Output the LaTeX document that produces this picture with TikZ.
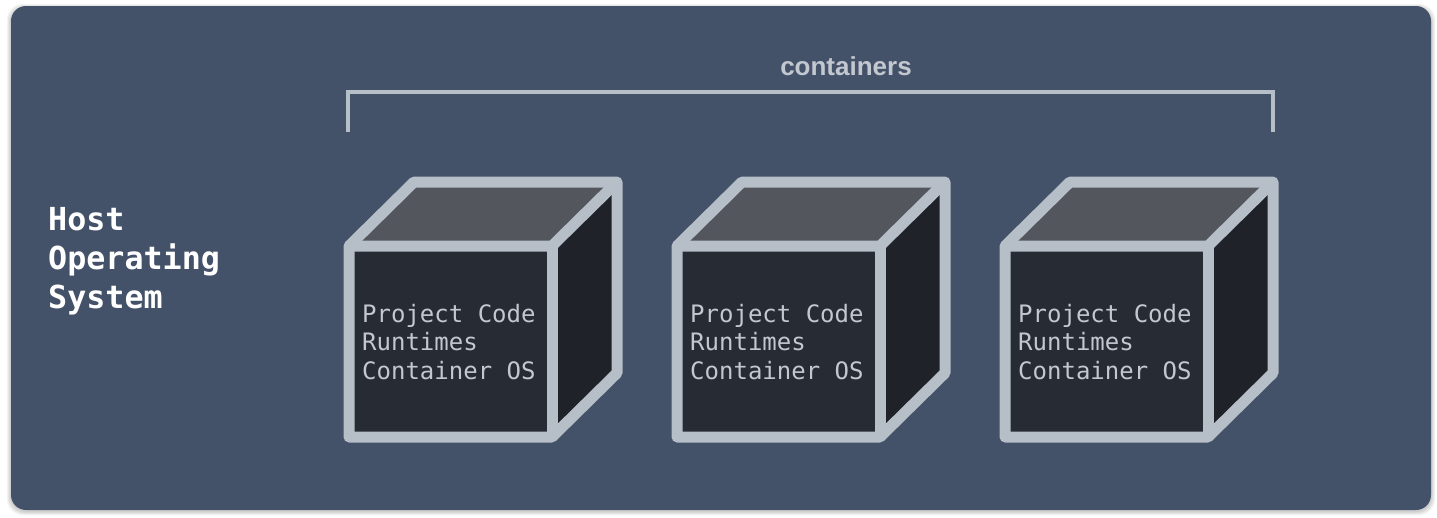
\documentclass[tikz,border=0pt]{standalone}
\usepackage{fontspec}
\setmainfont{Liberation Sans}
\setmonofont{DejaVu Sans Mono}
\usepackage{tikz}

\definecolor{panelblue}{HTML}{435169}
\definecolor{edgegrey}{HTML}{B6BEC8}
\definecolor{textgrey}{HTML}{C3C8D0}
\definecolor{topface}{HTML}{54565E}
\definecolor{sideface}{HTML}{1F2229}
\definecolor{frontface}{HTML}{272B33}

\tikzset{
    cubeedge/.style={draw=edgegrey, line width=11pt, line join=round},
    boxtext/.style={anchor=west, align=left, inner sep=0pt, text=textgrey,
        font=\ttfamily\fontsize{24}{28.5}\selectfont},
    hosttext/.style={anchor=west, align=left, inner sep=0pt, text=white,
        font=\ttfamily\bfseries\fontsize{31.7}{39}\selectfont},
    bracketline/.style={draw=edgegrey, line width=3.5pt},
}

\begin{document}
\begin{tikzpicture}[x=1pt,y=-1pt]
    \useasboundingbox (0,0) rectangle (1437,517);
    % Soft shadow under the panel
    \foreach \s in {1,...,4}
        \fill[black, opacity=0.05, rounded corners=16pt] (11-\s,6-\s+2) rectangle (1431+\s,510+\s+1);
    % Panel of the host system
    \fill[panelblue, rounded corners=15pt] (11,6) rectangle (1431,510);
    % Host label
    \node[hosttext] (host) at (48,261) {Host\\Operating\\System};
    % Bracket over the containers
    \coordinate (brleft) at (348,132);
    \coordinate (brright) at (1273,132);
    \draw[bracketline] (brleft) -- (348,92) -- (1273,92) -- (brright);
    \node[text=textgrey, font=\bfseries\fontsize{26}{30}\selectfont] (contlabel) at (846,66) {containers};
    % Three containers as cubes
    \foreach \i/\n in {0/a,1/b,2/c} {
        \begin{scope}[xshift=\i*328pt]
            % top face
            \fill[topface] (349,246) -- (414,182) -- (617,182) -- (552,246) -- cycle;
            % right face
            \fill[sideface] (552,246) -- (617,182) -- (617,373) -- (552,437) -- cycle;
            % front face
            \fill[frontface] (349,246) rectangle (552,437);
            % edges
            \draw[cubeedge] (349,246) -- (414,182) -- (617,182) -- (617,373) -- (552,437) -- (349,437) -- cycle;
            \draw[cubeedge] (349,246) -- (552,246) -- (617,182);
            \draw[cubeedge] (552,246) -- (552,437);
            % contents
            \node[boxtext] (code\n) at (362,342) {Project Code\\Runtimes\\Container OS};
        \end{scope}
    }
\end{tikzpicture}
\end{document}
